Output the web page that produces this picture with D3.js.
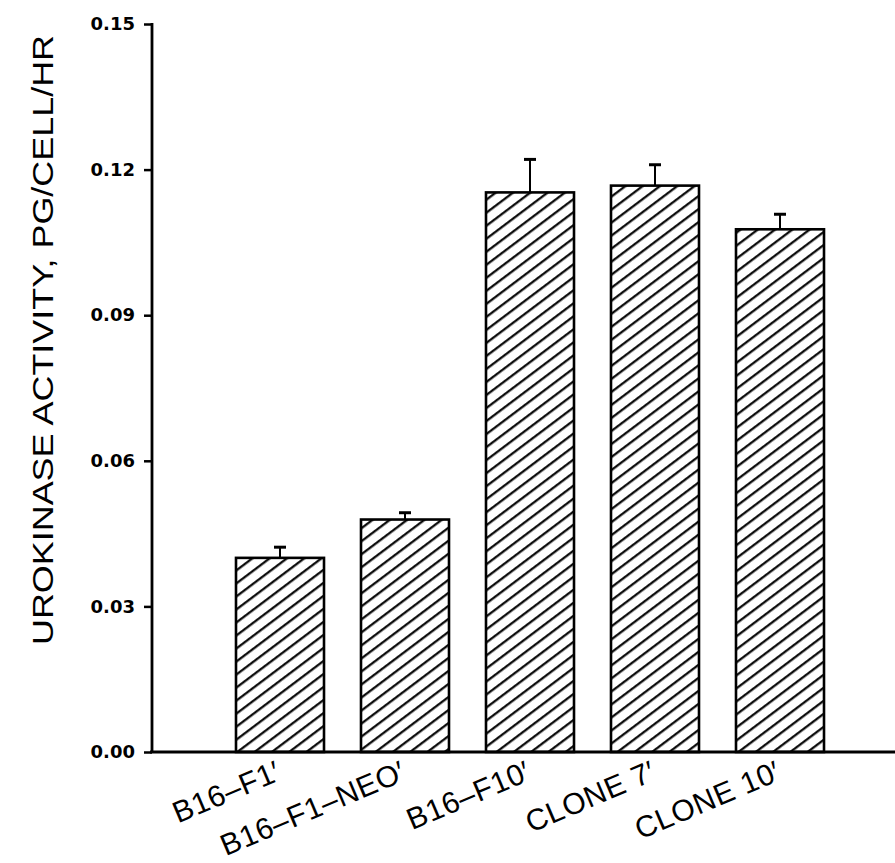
<!DOCTYPE html>
<html><head><meta charset="utf-8">
<script src="https://cdn.jsdelivr.net/npm/d3@7"></script>
<style>body{margin:0;background:#fff}svg{display:block}</style>
</head><body>
<script>
const categories = ["B16–F1′", "B16–F1–NEO′", "B16–F10′", "CLONE 7′", "CLONE 10′"];
const values = [0.0400, 0.0479, 0.1153, 0.1167, 0.1077];
const errors = [0.0022, 0.0014, 0.0068, 0.0043, 0.0031];
const yTicks = [0, 0.03, 0.06, 0.09, 0.12, 0.15];
const yTitle = "UROKINASE ACTIVITY, PG/CELL/HR";

const W = 895, H = 863;
const svg = d3.select("body").append("svg").attr("width", W).attr("height", H);

const defs = svg.append("defs");
const pat = defs.append("pattern").attr("id", "hatch")
  .attr("patternUnits", "userSpaceOnUse").attr("width", 10).attr("height", 10.4)
  .attr("patternTransform", "rotate(-37)");
pat.append("line").attr("x1", -1).attr("x2", 11).attr("y1", 5).attr("y2", 5)
  .attr("stroke", "#000").attr("stroke-width", 2.2);

const y = d3.scaleLinear().domain([0, 0.15]).range([752, 24]);
const x = d3.scaleBand().domain(categories).range([236, 824]).paddingInner(0.296).paddingOuter(0);

// y axis
const yAxis = svg.append("g").attr("transform", "translate(152,0)")
  .call(d3.axisLeft(y).tickValues(yTicks).tickFormat(d3.format(".2f")).tickSize(8).tickPadding(9));
yAxis.attr("font-size", null).attr("font-family", null);
yAxis.select(".domain").remove();
yAxis.selectAll(".tick line").attr("stroke", "#000").attr("stroke-width", 2.5);
yAxis.selectAll(".tick text")
  .style("font-family", "DejaVu Sans").style("font-weight", "bold")
  .style("font-size", "18px").attr("fill", "#000");
svg.append("line").attr("x1", 152).attr("x2", 152).attr("y1", y(0.15) - 1).attr("y2", y(0) + 1)
  .attr("stroke", "#000").attr("stroke-width", 2.8);
// x axis line
svg.append("line").attr("x1", 150).attr("x2", W).attr("y1", y(0)).attr("y2", y(0))
  .attr("stroke", "#000").attr("stroke-width", 2.8);

// bars
const data = categories.map((c, i) => ({c, v: values[i], e: errors[i]}));
svg.selectAll("rect.bar").data(data).enter().append("rect").attr("class", "bar")
  .attr("x", d => x(d.c)).attr("width", x.bandwidth())
  .attr("y", d => y(d.v)).attr("height", d => y(0) - y(d.v))
  .attr("fill", "url(#hatch)").attr("stroke", "#000").attr("stroke-width", 2.6);

// error bars
svg.selectAll("line.err").data(data).enter().append("line").attr("class", "err")
  .attr("x1", d => x(d.c) + x.bandwidth() / 2).attr("x2", d => x(d.c) + x.bandwidth() / 2)
  .attr("y1", d => y(d.v)).attr("y2", d => y(d.v + d.e))
  .attr("stroke", "#000").attr("stroke-width", 2);
svg.selectAll("line.cap").data(data).enter().append("line").attr("class", "cap")
  .attr("x1", d => x(d.c) + x.bandwidth() / 2 - 6).attr("x2", d => x(d.c) + x.bandwidth() / 2 + 6)
  .attr("y1", d => y(d.v + d.e)).attr("y2", d => y(d.v + d.e))
  .attr("stroke", "#000").attr("stroke-width", 3);

// category labels
svg.selectAll("text.cat").data(categories).enter().append("text").attr("class", "cat")
  .attr("transform", d => `translate(${x(d) + x.bandwidth() / 2 + 3},779) rotate(-23)`)
  .attr("text-anchor", "end").style("font-family", "Liberation Sans").style("font-size", "30px")
  .style("letter-spacing", "0.5px")
  .attr("fill", "#000").text(d => d);

// y title
svg.append("text").attr("transform", `translate(53,340) rotate(-90)`)
  .attr("text-anchor", "middle").style("font-family", "Liberation Sans").style("font-size", "29px")
  .attr("textLength", 610).attr("lengthAdjust", "spacingAndGlyphs")
  .attr("fill", "#000").text(yTitle);
</script>
</body></html>
